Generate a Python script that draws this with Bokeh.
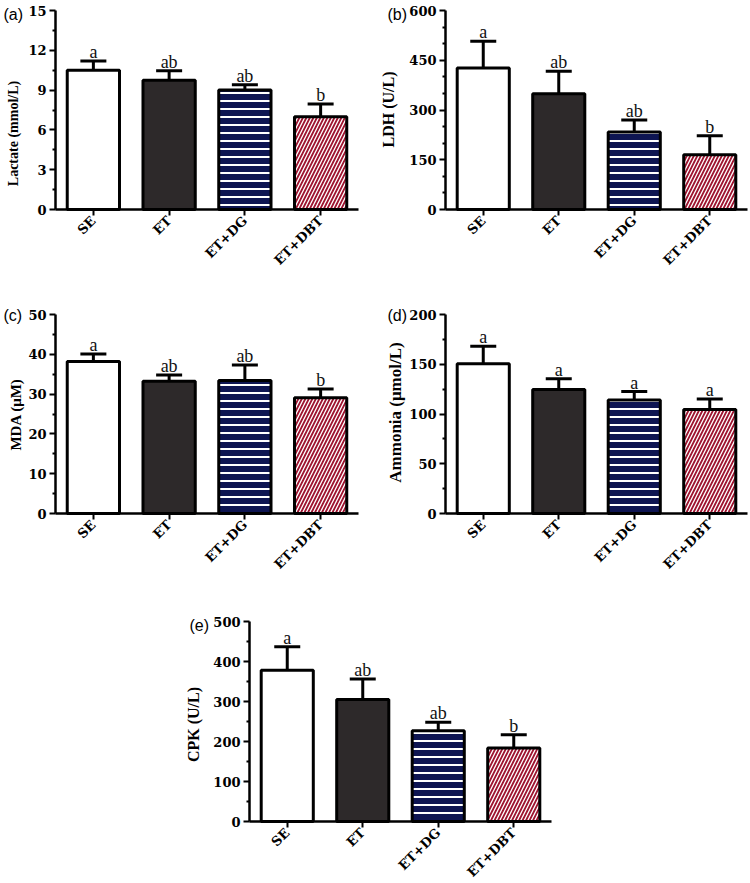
import math
from bokeh.plotting import figure
from bokeh.models import (Range1d, Whisker, TeeHead, ColumnDataSource,
                          FixedTicker, Label, Spacer)
from bokeh.layouts import column, row
from bokeh.core.properties import value
from bokeh.embed import file_html
from bokeh.resources import INLINE

groups = ["SE", "ET", "ET+DG", "ET+DBT"]

lactate_mean = [10.5, 9.75, 9.0, 7.0]
lactate_err = [0.7, 0.7, 0.4, 0.95]
lactate_letters = ["a", "ab", "ab", "b"]
lactate_ticks = [0, 3, 6, 9, 12, 15]

ldh_mean = [427, 349, 234, 165]
ldh_err = [80, 68, 36, 57]
ldh_letters = ["a", "ab", "ab", "b"]
ldh_ticks = [0, 150, 300, 450, 600]

mda_mean = [38.2, 33.2, 33.4, 29.1]
mda_err = [1.9, 1.6, 3.9, 2.2]
mda_letters = ["a", "ab", "ab", "b"]
mda_ticks = [0, 10, 20, 30, 40, 50]

ammonia_mean = [150.5, 124.5, 114.0, 104.5]
ammonia_err = [17.5, 11.0, 8.5, 10.5]
ammonia_letters = ["a", "a", "a", "a"]
ammonia_ticks = [0, 50, 100, 150, 200]

cpk_mean = [378, 305, 227, 184]
cpk_err = [59, 51, 21, 33]
cpk_letters = ["a", "ab", "ab", "b"]
cpk_ticks = [0, 100, 200, 300, 400, 500]

bar_fill = ["#ffffff", "#2d292a", "#0e1552", "#9e1430"]
bar_hatch = [" ", " ", "-", "/"]
bar_hatch_scale = [8, 8, 8, 7]
bar_hatch_weight = [2, 2, 2, 1.3]

SERIF = "Liberation Serif"
TICKFONT = "DejaVu Serif"


def make_panel(tag, ylabel, means, errs, letters, ticks, n_minor,
               W, H, x0px, x1px, ytop, ybot, ylab_size, ylab_pos, tag_pos):
    n = len(groups)
    xs = list(range(n))
    upper = [m + e for m, e in zip(means, errs)]
    src = ColumnDataSource(dict(x=xs, mean=means, upper=upper, letter=letters,
                                fill=bar_fill, hatch=bar_hatch,
                                hscale=bar_hatch_scale, hweight=bar_hatch_weight))
    ymin, ymax = ticks[0], ticks[-1]
    kx = (x1px - x0px) / n
    ky = (ybot - ytop) / (ymax - ymin)
    xr = Range1d(-0.5 - x0px / kx, n - 0.5 + (W - x1px) / kx)
    yr = Range1d(ymin - (H - ybot) / ky, ymax + ytop / ky)

    p = figure(width=W, height=H, x_range=xr, y_range=yr, output_backend="svg",
               toolbar_location=None, min_border=0)
    p.outline_line_color = None
    p.xgrid.visible = False
    p.ygrid.visible = False
    p.background_fill_color = "white"
    p.border_fill_color = "white"

    wh = Whisker(base="x", upper="upper", lower="mean", source=src, dimension="height",
                 line_width=3, line_color="black",
                 upper_head=TeeHead(size=26, line_width=3, line_color="black"),
                 lower_head=None)
    p.add_layout(wh)

    p.vbar(x="x", top="mean", bottom=0, width=0.69, source=src,
           fill_color="fill", line_color="black", line_width=3,
           hatch_pattern="hatch", hatch_color="white",
           hatch_scale="hscale", hatch_weight="hweight")

    p.text(x="x", y="upper", text="letter", source=src, text_align="center",
           text_baseline="alphabetic", y_offset=-9, text_color="#111111",
           text_font=value(SERIF), text_font_size="18px")

    step = ticks[1] - ticks[0]
    minors = [ticks[i] + step * k / n_minor for i in range(len(ticks) - 1)
              for k in range(1, n_minor)]
    p.yaxis.ticker = FixedTicker(ticks=ticks, minor_ticks=minors)
    p.yaxis.fixed_location = -0.5
    p.yaxis.bounds = (ymin, ymax)

    p.xaxis.ticker = FixedTicker(ticks=xs, minor_ticks=[])
    p.xaxis.major_label_overrides = {i: g for i, g in zip(xs, groups)}
    p.xaxis.fixed_location = ymin
    p.xaxis.bounds = (-0.5, n - 0.5)
    p.xaxis.major_label_orientation = math.pi / 4

    for ax in (p.xaxis, p.yaxis):
        ax.axis_line_width = 2.5
        ax.axis_line_color = "black"
        ax.major_tick_line_width = 2
        ax.major_tick_line_color = "black"
        ax.minor_tick_line_width = 2
        ax.minor_tick_line_color = "black"
        ax.major_tick_in = 0
        ax.major_tick_out = 6
        ax.minor_tick_in = 0
        ax.minor_tick_out = 3
        ax.major_label_text_font = TICKFONT
        ax.major_label_text_font_style = "bold"
        ax.major_label_text_font_size = "13px"
        ax.major_label_text_color = "black"
        ax.major_label_standoff = 3

    lx, ly = ylab_pos
    p.add_layout(Label(x=lx, y=H - ly, x_units="screen", y_units="screen",
                       text=ylabel, angle=math.pi / 2, text_align="center",
                       text_baseline="middle", text_font=SERIF,
                       text_font_style="bold", text_font_size=ylab_size,
                       text_color="black"))
    tx, ty = tag_pos
    p.add_layout(Label(x=tx, y=H - ty, x_units="screen", y_units="screen",
                       text=tag, text_align="left", text_baseline="middle",
                       text_font="Liberation Sans", text_font_size="16px",
                       text_color="black"))
    return p


pa = make_panel("(a)", "Lactate (mmol/L)", lactate_mean, lactate_err, lactate_letters,
                lactate_ticks, 2, 375, 300, 55, 358, 10, 209, "14px", (13, 133), (3, 14))
pb = make_panel("(b)", "LDH (U/L)", ldh_mean, ldh_err, ldh_letters,
                ldh_ticks, 3, 375, 300, 70, 372, 10, 209, "16px", (13, 109), (12, 14))
pc = make_panel("(c)", "MDA (μM)", mda_mean, mda_err, mda_letters,
                mda_ticks, 2, 375, 300, 55, 358, 14, 213, "15px", (15, 114), (3, 15))
pd_ = make_panel("(d)", "Ammonia (μmol/L)", ammonia_mean, ammonia_err, ammonia_letters,
                 ammonia_ticks, 2, 375, 300, 70, 372, 14, 213, "17px", (20, 112), (12, 15))
pe = make_panel("(e)", "CPK (U/L)", cpk_mean, cpk_err, cpk_letters,
                cpk_ticks, 2, 570, 283, 69, 371, 21, 221, "16px", (13, 124), (9, 25))

layout = column(row(pa, pb), row(pc, pd_), row(Spacer(width=180, height=283), pe))

open("out.html", "w").write(file_html(layout, INLINE))
